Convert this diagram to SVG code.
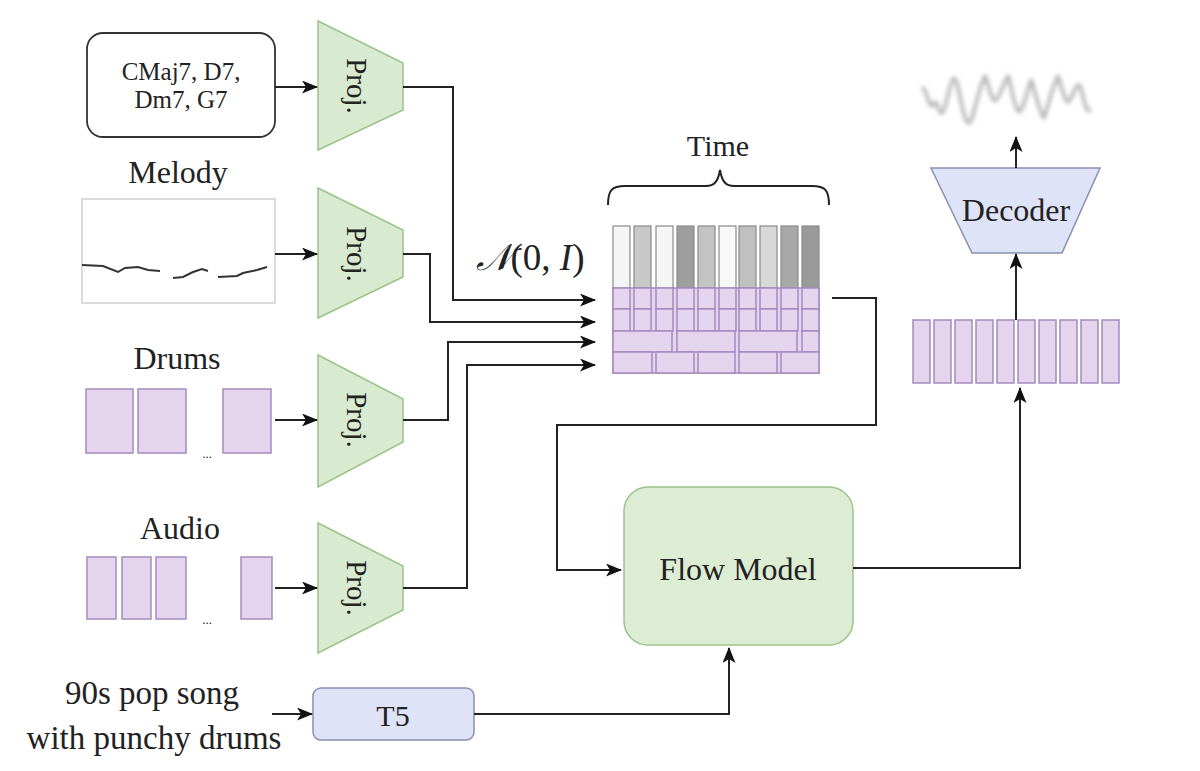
<svg xmlns="http://www.w3.org/2000/svg" width="1200" height="771" viewBox="0 0 1200 771" font-family="Liberation Serif, Times New Roman, serif">
<defs>
<marker id="arr" viewBox="0 0 16 13" refX="15" refY="6.5" markerWidth="16" markerHeight="13" markerUnits="userSpaceOnUse" orient="auto">
<path d="M0,0 L16,6.5 L0,13 L4,6.5 z" fill="#111"/>
</marker>
<filter id="blur" x="-10%" y="-30%" width="120%" height="160%"><feGaussianBlur stdDeviation="2.2"/></filter>
<style>
text{font-family:"Liberation Serif","Times New Roman",serif;fill:#222}
.proj{fill:#d8ead0;stroke:#9cc38c;stroke-width:1.5}
.pur{fill:#e4d4ee;stroke:#a58bbd;stroke-width:1.5}
.blue{fill:#dfe3f8;stroke:#8a90b0;stroke-width:1.5}
.con{fill:none;stroke:#222;stroke-width:2}
.gc{stroke:#8a8a8a;stroke-width:1.2}
.lbl{font-size:32px;text-anchor:middle}
</style>
</defs>
<rect width="1200" height="771" fill="#ffffff"/>

<g id="chords">
<rect x="87" y="33" width="188" height="104" rx="16" fill="#fff" stroke="#333" stroke-width="1.8"/>
<text x="181" y="80" font-size="25" text-anchor="middle">CMaj7, D7,</text>
<text x="181" y="108" font-size="25" text-anchor="middle">Dm7, G7</text>
</g>

<g id="melody">
<text class="lbl" x="178" y="183">Melody</text>
<rect x="82" y="199" width="193" height="104" fill="#fff" stroke="#cfcfcf" stroke-width="1.5"/>
<polyline fill="none" stroke="#333" stroke-width="2" points="82,265 103,266 118,272 125,268 138,267 148,270 160,271"/>
<polyline fill="none" stroke="#333" stroke-width="2" points="173,278 183,277 193,272 202,269 208,271"/>
<polyline fill="none" stroke="#333" stroke-width="2" points="218,277 237,276 243,273 257,270 267,267"/>
</g>

<g id="drums">
<text class="lbl" x="177" y="369">Drums</text>
<rect class="pur" x="86" y="389" width="47" height="64"/>
<rect class="pur" x="138" y="389" width="48" height="64"/>
<rect class="pur" x="223" y="389" width="48" height="64"/>
<text x="207" y="458" font-size="13" text-anchor="middle" fill="#999">...</text>
</g>

<g id="audio">
<text class="lbl" x="180" y="539">Audio</text>
<rect class="pur" x="87" y="557" width="29" height="62"/>
<rect class="pur" x="122" y="557" width="29" height="62"/>
<rect class="pur" x="156" y="557" width="30" height="62"/>
<rect class="pur" x="241" y="557" width="31" height="62"/>
<text x="207" y="624" font-size="13" text-anchor="middle" fill="#999">...</text>
</g>

<g id="proj1">
<polygon class="proj" points="318,21 403,63 403,110 318,150"/>
<text transform="translate(357,86) rotate(90)" font-size="29" text-anchor="middle" dy="10">Proj.</text>
</g>
<g id="proj2">
<polygon class="proj" points="318,188 403,230 403,277 318,318"/>
<text transform="translate(357,254) rotate(90)" font-size="29" text-anchor="middle" dy="10">Proj.</text>
</g>
<g id="proj3">
<polygon class="proj" points="318,355 403,399 403,442 318,487"/>
<text transform="translate(357,420) rotate(90)" font-size="29" text-anchor="middle" dy="10">Proj.</text>
</g>
<g id="proj4">
<polygon class="proj" points="318,523 403,566 403,610 318,653"/>
<text transform="translate(357,588) rotate(90)" font-size="29" text-anchor="middle" dy="10">Proj.</text>
</g>

<g id="noise">
<text x="530" y="270" font-size="37" text-anchor="middle"><tspan font-family="DejaVu Serif" font-style="italic">𝒩</tspan>(0, <tspan font-style="italic">I</tspan>)</text>
</g>

<g id="time">
<text x="718" y="156" font-size="30" text-anchor="middle">Time</text>
<path d="M608,205 C608,190 612,186 625,186 L706,186 C714,186 718,182 720,170 C722,182 726,186 734,186 L812,186 C825,186 829,190 829,205" fill="none" stroke="#222" stroke-width="2"/>
</g>

<g id="grid">
<rect x="613" y="288" width="206" height="85" fill="#e4d4ee" stroke="#a58bbd" stroke-width="1.5"/>
<rect class="gc" x="613" y="226" width="17" height="62" fill="#f5f5f5"/>
<rect class="gc" x="634" y="226" width="17" height="62" fill="#c8c8c8"/>
<rect class="gc" x="656" y="226" width="17" height="62" fill="#f5f5f5"/>
<rect class="gc" x="677" y="226" width="17" height="62" fill="#9e9e9e"/>
<rect class="gc" x="698" y="226" width="17" height="62" fill="#c4c4c4"/>
<rect class="gc" x="719" y="226" width="17" height="62" fill="#f8f8f8"/>
<rect class="gc" x="739" y="226" width="17" height="62" fill="#c0c0c0"/>
<rect class="gc" x="760" y="226" width="17" height="62" fill="#d8d8d8"/>
<rect class="gc" x="781" y="226" width="17" height="62" fill="#a8a8a8"/>
<rect class="gc" x="802" y="226" width="17" height="62" fill="#9a9a9a"/>
<g class="pur">
<rect x="613" y="288" width="17" height="21"/><rect x="634" y="288" width="17" height="21"/><rect x="656" y="288" width="17" height="21"/><rect x="677" y="288" width="17" height="21"/><rect x="698" y="288" width="17" height="21"/><rect x="719" y="288" width="17" height="21"/><rect x="739" y="288" width="17" height="21"/><rect x="760" y="288" width="17" height="21"/><rect x="781" y="288" width="17" height="21"/><rect x="802" y="288" width="17" height="21"/>
<rect x="613" y="309" width="17" height="22"/><rect x="634" y="309" width="17" height="22"/><rect x="656" y="309" width="17" height="22"/><rect x="677" y="309" width="17" height="22"/><rect x="698" y="309" width="17" height="22"/><rect x="719" y="309" width="17" height="22"/><rect x="739" y="309" width="17" height="22"/><rect x="760" y="309" width="17" height="22"/><rect x="781" y="309" width="17" height="22"/><rect x="802" y="309" width="17" height="22"/>
<rect x="613" y="331" width="59" height="21"/><rect x="677" y="331" width="58" height="21"/><rect x="739" y="331" width="58" height="21"/><rect x="802" y="331" width="17" height="21"/>
<rect x="613" y="352" width="39" height="21"/><rect x="656" y="352" width="38" height="21"/><rect x="698" y="352" width="37" height="21"/><rect x="739" y="352" width="38" height="21"/><rect x="781" y="352" width="38" height="21"/>
</g>
</g>

<g id="flow">
<rect x="624" y="487" width="229" height="158" rx="24" fill="#dcedd4" stroke="#9cc38c" stroke-width="1.5"/>
<text x="738" y="580" font-size="32" text-anchor="middle">Flow Model</text>
</g>

<g id="latent">
<rect class="pur" x="913" y="320" width="17" height="63"/>
<rect class="pur" x="934" y="320" width="17" height="63"/>
<rect class="pur" x="955" y="320" width="17" height="63"/>
<rect class="pur" x="976" y="320" width="17" height="63"/>
<rect class="pur" x="997" y="320" width="17" height="63"/>
<rect class="pur" x="1018" y="320" width="17" height="63"/>
<rect class="pur" x="1039" y="320" width="17" height="63"/>
<rect class="pur" x="1060" y="320" width="17" height="63"/>
<rect class="pur" x="1081" y="320" width="17" height="63"/>
<rect class="pur" x="1102" y="320" width="17" height="63"/>
</g>

<g id="decoder">
<polygon class="blue" points="931,168 1100,168 1062,253 972,253"/>
<text x="1016" y="221" font-size="32" text-anchor="middle">Decoder</text>
</g>

<g id="waveform">
<path fill="none" stroke="#b4b4b4" stroke-width="3.5" filter="url(#blur)" stroke-linejoin="round" stroke-linecap="round" d="M923,88 C927,92 930,112 934,104 C937,96 939,118 943,112 C947,104 950,80 954,78 C958,80 960,100 963,110 C966,122 969,128 972,118 C976,104 980,86 985,76 C989,86 992,104 996,100 C1000,96 1003,84 1008,76 C1012,88 1014,108 1019,112 C1023,110 1026,96 1031,80 C1035,90 1039,112 1044,118 C1048,106 1052,88 1058,76 C1062,88 1066,108 1070,100 C1074,92 1077,82 1080,86 C1084,98 1086,114 1090,110"/>
</g>

<g id="t5">
<rect class="blue" x="313" y="688" width="161" height="52" rx="8"/>
<text x="393" y="726" font-size="30" text-anchor="middle">T5</text>
</g>

<g id="prompt">
<text x="152" y="704" font-size="33" text-anchor="middle">90s pop song</text>
<text x="154" y="749" font-size="33" text-anchor="middle">with punchy drums</text>
</g>

<g id="connectors">
<line class="con" x1="275" y1="87" x2="317" y2="87" marker-end="url(#arr)"/>
<line class="con" x1="275" y1="254" x2="317" y2="254" marker-end="url(#arr)"/>
<line class="con" x1="275" y1="420" x2="317" y2="420" marker-end="url(#arr)"/>
<line class="con" x1="275" y1="588" x2="317" y2="588" marker-end="url(#arr)"/>
<polyline class="con" points="403,87 453,87 453,300 595,300" marker-end="url(#arr)"/>
<polyline class="con" points="403,254 430,254 430,322 595,322" marker-end="url(#arr)"/>
<polyline class="con" points="403,420 448,420 448,342 595,342" marker-end="url(#arr)"/>
<polyline class="con" points="403,588 467,588 467,365 595,365" marker-end="url(#arr)"/>
<polyline class="con" points="832,298 876,298 876,425 557,425 557,570 621,570" marker-end="url(#arr)"/>
<polyline class="con" points="853,568 1020,568 1020,388" marker-end="url(#arr)"/>
<line class="con" x1="1016" y1="320" x2="1016" y2="254" marker-end="url(#arr)"/>
<line class="con" x1="1016" y1="168" x2="1016" y2="137" marker-end="url(#arr)"/>
<line class="con" x1="272" y1="714" x2="312" y2="714" marker-end="url(#arr)"/>
<polyline class="con" points="474,714 729,714 729,648" marker-end="url(#arr)"/>
</g>
</svg>
